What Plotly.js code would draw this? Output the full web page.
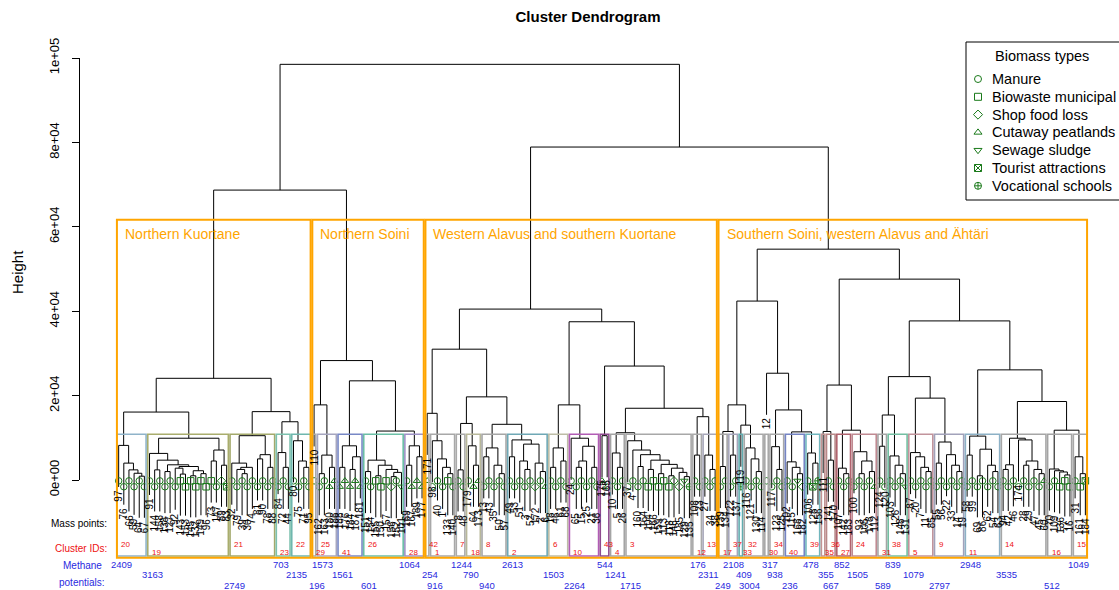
<!DOCTYPE html>
<html><head><meta charset="utf-8">
<script src="https://cdn.plot.ly/plotly-3.0.1.min.js"></script>
<style>html,body{margin:0;padding:0;background:#fff}#chart{width:1119px;height:590px}</style>
</head><body><div id="chart"></div>
<script>
// ---------------- DATA ----------------
const clusterIds = [20,19,21,23,22,29,25,41,26,28,42,1,7,18,8,2,6,10,43,4,3,12,13,17,37,33,32,30,34,40,39,35,36,27,24,31,38,5,9,11,14,16,15];
const methanePotentials = [2409,3163,2749,703,2135,196,1573,1561,601,1064,254,916,1244,790,940,2613,1503,2264,544,1241,1715,176,2311,249,2108,409,3004,317,938,236,478,355,667,852,1505,589,839,1079,2797,2948,3535,512,1049];
const leafLabelsByCluster = [
 [97,76,66,59,64,67],[91,144,158,138,127,92,143,153,145,132,149,96,73,147,89,83],[32,79,39,30,74,81,90,78,88],[84,72,44],[80,75,71,95],
 [110],[162,163,180,186],[188,176,184,187,181],[151,154,155,150,157,156,152,101],[169,167,189,177],
 [171],[98,40,1,133,140],[8,48],[179,64,173],[13,43,35,50,57],[49,53,51,3,52,172,2,6],[18,46,61,68],[24,65,15,25,21,36],[175,165],[10,5,26],[37,4,160,164,104,166,159,113,118,146,185,129,135],[108,23],[27,34,38],
 [139,134],[122,137],[119],[116,121,130,114],[12],[117,123,125],[102,115,168,182],[106,128,156],[111],[141,170],[107,142,183],[100,93,105,178,112],[124,120],[103,126,148,131],[87,20,7,11,85],[55,56,22,33,14,19],[58,99,69,86,62,54,63],[94,42,46,174,28,29,47,45,60],[70,109,136,77,16],[31,161,184]
];
const leafTypesByCluster = ['MMMMMM','MMMMMMBBBBBBBMST','MMMMMMMMM','MMM','MMMM','M','MMCC','CCCCC','MMBBBSMW','MCCC',
 'C','MMMBM','MM','MCC','MMMMM','MMMMMSMC','MMMM','MMMMMM','CC','MMM','MMMMBBBBBSSWV','MM','MMM',
 'MM','MM','V','MMMM','M','MMM','MMWS','MTV','M','MM','MMM','MMMMC','MM','MMMW','MMMMM','MMMMMM','MMMMMMM','MMMMMMMMC','MMBBB','MBT'];
// merge heights inside each cluster, between neighbouring leaves (left to right)
const innerHeights = [
 [8200,4000,2400,1600,900],[6300,2400,4700,2000,3600,2800,1400,3200,1000,2200,1500,9900,4500,7100,3500],[4000,2500,1500,3000,10500,5000,6000,3000],[6500,3000],[9300,4500,3000],
 [],[1500,5900,3000],[3000,8100,2500,5500],[2000,4700,1000,3500,2500,800,1800],[3500,8100,5500],
 [],[9300,5000,3000,1500],[2400],[8100,3500],[5500,7600,3500,1500],[5500,9500,4500,2500,8500,4000,2000],[3000,7600,4500],[9900,3000,4500,8000,3000],[10500],[6400,3000],[9300,7100,3200,6000,2500,4700,1500,3700,1000,2800,1800,800],[5900],[5900,2500],
 [3200],[5900],[],[7600,5000,2000],[],[7900,2500],[4300,3000,1500],[6400,4000],[],[4700],[2800,1500],[6700,1500,4500,2000],[8000],[5700,3500,1500],[6500,5500,3000,2000],[4000,9000,6000,3500,2000],[5900,10400,1000,7300,3500,2000],[2500,3600,9900,9500,3500,4500,2500,1500],[2600,2200,1900,1200],[5500,1500]
];
// merge height joining each cluster with the next one (lowest common ancestor)
const joinHeights = [16100,24100,16200,13800,68700,17800,28300,23500,11600,98500,
 15800,31000,13400,19700,13200,40500,17800,37500,27000,11200,17000,15000,78900,
 11500,17800,13000,42400,25300,16600,11400,54700,11500,22500,11800,47600,15400,24500,19400,37700,26100,18600,11800];
const clusterColors = ['#8fb3c9','#a9ad6d','#a3a96b','#7cc1ae','#6fb7ae','#a9a9a9','#a6a6bf','#7888c6','#6bbfa6','#9d92c6',
 '#aaaaaa','#a8a8a8','#aaaaaa','#b8b89a','#a6a6a6','#6fa8b5','#bdbda6','#b25db5','#8e4a8e','#a4a4a4','#a8a8a8','#aaaaaa','#a7a7b9',
 '#a5a5a5','#a6a6bb','#62adb0','#a8a8a8','#a8a8a8','#a8a8a8','#7584c4','#70b6bd','#c29494','#b88888','#b0636e','#c08a92','#a5a5a5','#73bfa2','#c2949c','#a2a2ba','#8db1c6','#a6a6a6','#a4a4a4','#a8a8a8'];
const regionNames = ['Northern Kuortane','Northern Soini','Western Alavus and southern Kuortane','Southern Soini, western Alavus and Ähtäri'];
const regionClusterCounts = [5,5,13,20];
const typeCodes = ['M','B','S','C','W','T','V'];
const typeNames = ['Manure','Biowaste municipal','Shop food loss','Cutaway peatlands','Sewage sludge','Tourist attractions','Vocational schools'];
const typeSymbols = ['circle-open','square-open','diamond-open','triangle-up-open','triangle-down-open','square-x-open','circle-cross-open'];
const yTickVals = [0,20000,40000,60000,80000,100000];
const yTickText = ['0e+00','2e+04','4e+04','6e+04','8e+04','1e+05'];

// ---------------- BUILD ----------------
const W = 1119, H = 590, ML = 80;
const pxPerK = 4.22, zeroPx = 480;
const yRange = [-(H - zeroPx) / pxPerK * 1000, zeroPx / pxPerK * 1000];
const xRange = [-6.52, 195.54];
const green = '#1a7a1a';

const leafLabels = [].concat(...leafLabelsByCluster);
const leafTypes = leafTypesByCluster.join('').split('');
const clusterSizes = leafLabelsByCluster.map(a => a.length);
const N = leafLabels.length;
const gaps = [];
clusterSizes.forEach((n, c) => {
  innerHeights[c].forEach(h => gaps.push(h));
  if (c < clusterSizes.length - 1) gaps.push(joinHeights[c]);
});

function build(a, b) {
  if (a === b) return {leaf: true, idx: a, x: a + 1};
  let m = a;
  for (let i = a + 1; i < b; i++) if (gaps[i] > gaps[m]) m = i;
  const L = build(a, m), R = build(m + 1, b);
  return {leaf: false, h: gaps[m], x: (L.x + R.x) / 2, L, R};
}
const root = build(0, N - 1);
const maxH = Math.max(...gaps);
const hang = 0.1 * maxH;
const lx = [], ly = [], leafBottom = new Array(N);
(function draw(node) {
  if (node.leaf) return;
  const bl = node.L.leaf ? node.h - hang : node.L.h;
  const br = node.R.leaf ? node.h - hang : node.R.h;
  if (node.L.leaf) leafBottom[node.L.idx] = bl;
  if (node.R.leaf) leafBottom[node.R.idx] = br;
  lx.push(node.L.x, node.L.x, node.R.x, node.R.x, null);
  ly.push(bl, node.h, node.h, br, null);
  draw(node.L); draw(node.R);
})(root);

const sortedH = gaps.slice().sort((a, b) => b - a);
const cutFor = k => (sortedH[k - 2] + sortedH[k - 1]) / 2;
const clusterTop = cutFor(clusterIds.length);
const regionTop = cutFor(regionNames.length);
const rectBottom = -18000;

const traces = [];
traces.push({x: lx, y: ly, mode: 'lines', line: {color: '#000', width: 1}, hoverinfo: 'skip', xaxis: 'x', yaxis: 'y'});

typeCodes.forEach((code, t) => {
  const xs = [], ys = [];
  leafTypes.forEach((c, i) => { if (c === code) { xs.push(i + 1); ys.push(i % 2 === 0 ? -200 : -1600); } });
  traces.push({x: xs, y: ys, mode: 'markers', name: typeNames[t], marker: {symbol: typeSymbols[t], color: green, size: 6.5, line: {width: 1, color: green}}, hoverinfo: 'skip', xaxis: 'x', yaxis: 'y'});
});
// axis helper subplot
traces.push({x: [0.5], y: [-1e9], mode: 'markers', marker: {opacity: 0}, hoverinfo: 'skip', xaxis: 'x2', yaxis: 'y2'});
// legend markers subplot (pixel coordinates)
const legTop = 79, legStep = 17.8, legSymX = 978, legTextX = 990;
traces.push({x: typeNames.map(() => legSymX), y: typeNames.map((_, i) => legTop + i * legStep), mode: 'markers',
  marker: {symbol: typeSymbols, color: green, size: 7, line: {width: 1, color: green}}, hoverinfo: 'skip', xaxis: 'x3', yaxis: 'y3'});

const shapes = [], annotations = [];
let start = 0;
const firstLeaf = [];
clusterSizes.forEach((n, c) => {
  firstLeaf.push(start + 1);
  shapes.push({type: 'rect', xref: 'x', yref: 'y', x0: start + 1 - 0.34, x1: start + n + 0.33, y0: rectBottom, y1: clusterTop,
    line: {color: clusterColors[c], width: 1.6}, layer: 'above'});
  annotations.push({xref: 'x', yref: 'y', x: start + 1 - 0.34, xshift: 2, xanchor: 'left', y: c % 2 === 0 ? -15200 : -17100, yanchor: 'middle',
    text: String(clusterIds[c]), showarrow: false, font: {size: 8, color: '#ee1111'}});
  const rowY = [-20100, -22500, -24900][c % 3];
  annotations.push({xref: 'x', yref: 'y', x: start + 1.6, xanchor: 'center', y: rowY, yanchor: 'middle',
    text: String(methanePotentials[c]), showarrow: false, font: {size: 9.5, color: '#2a2ae0'}});
  start += n;
});
let cstart = 0;
regionNames.forEach((name, r) => {
  const c0 = cstart, c1 = cstart + regionClusterCounts[r] - 1;
  const lf = firstLeaf[c0], ll = firstLeaf[c1] + clusterSizes[c1] - 1;
  shapes.push({type: 'rect', xref: 'x', yref: 'y', x0: lf - 0.34, x1: ll + 0.33, y0: rectBottom - 400, y1: regionTop,
    line: {color: '#FFA500', width: 2}, layer: 'above'});
  annotations.push({xref: 'x', yref: 'y', x: lf - 0.34, xshift: 6, xanchor: 'left', y: regionTop, yshift: -4, yanchor: 'top',
    text: name, showarrow: false, font: {size: 14, color: '#FFA500'}});
  cstart += regionClusterCounts[r];
});
leafLabels.forEach((lab, i) => {
  annotations.push({xref: 'x', yref: 'y', x: i + 1, y: leafBottom[i], yshift: -1, xanchor: 'center', yanchor: 'top', textangle: -90,
    text: String(lab), showarrow: false, font: {size: 10, color: '#000'}});
});
const px2x = px => (px - ML) / (W - ML);
const py2y = py => (H - py) / H;
annotations.push({xref: 'paper', yref: 'paper', x: px2x(18), y: py2y(272), textangle: -90, text: 'Height', showarrow: false, xanchor: 'center', yanchor: 'middle', font: {size: 15}});
annotations.push({xref: 'paper', yref: 'paper', x: px2x(109), y: py2y(523), text: 'Mass points:', showarrow: false, xanchor: 'right', yanchor: 'middle', font: {size: 10}});
annotations.push({xref: 'paper', yref: 'paper', x: px2x(109), y: py2y(548), text: 'Cluster IDs:', showarrow: false, xanchor: 'right', yanchor: 'middle', font: {size: 10, color: '#ee1111'}});
annotations.push({xref: 'paper', yref: 'paper', x: px2x(82), y: py2y(565), text: 'Methane', showarrow: false, xanchor: 'center', yanchor: 'middle', font: {size: 10, color: '#2a2ae0'}});
annotations.push({xref: 'paper', yref: 'paper', x: px2x(82), y: py2y(582), text: 'potentials:', showarrow: false, xanchor: 'center', yanchor: 'middle', font: {size: 10, color: '#2a2ae0'}});
// legend
shapes.push({type: 'rect', xref: 'paper', yref: 'paper', x0: px2x(966), x1: px2x(1126), y0: py2y(200), y1: py2y(42), line: {color: '#000', width: 1}, fillcolor: '#fff', layer: 'below'});
annotations.push({xref: 'paper', yref: 'paper', x: px2x(1042), y: py2y(56), text: 'Biomass types', showarrow: false, xanchor: 'center', yanchor: 'middle', font: {size: 14.5}});
typeNames.forEach((n, i) => annotations.push({xref: 'paper', yref: 'paper', x: px2x(legTextX), y: py2y(legTop + i * legStep), text: n, showarrow: false, xanchor: 'left', yanchor: 'middle', font: {size: 14.5}}));

const layout = {
  width: W, height: H, margin: {l: ML, r: 0, t: 0, b: 0},
  paper_bgcolor: '#fff', plot_bgcolor: 'rgba(0,0,0,0)', showlegend: false,
  font: {family: 'Liberation Sans, Arial, sans-serif', color: '#000'},
  title: {text: '<b>Cluster Dendrogram</b>', font: {size: 15}, x: 588 / W, xref: 'container', xanchor: 'center', y: 1 - 17 / H, yref: 'container', yanchor: 'middle'},
  xaxis: {range: xRange, visible: false, domain: [0, 1]},
  yaxis: {range: yRange, visible: false, domain: [0, 1]},
  xaxis2: {domain: [0, 1], anchor: 'y2', range: [0, 1], visible: false},
  yaxis2: {domain: [py2y(zeroPx), py2y(zeroPx - 100 * pxPerK)], anchor: 'x2', range: [0, 100000], showline: true, linecolor: '#000', linewidth: 1,
    ticks: 'outside', ticklen: 7, tickcolor: '#000', tickwidth: 1, tickvals: yTickVals, ticktext: yTickText, tickangle: -90,
    tickfont: {size: 13}, ticklabelstandoff: 8, showgrid: false, zeroline: false},
  xaxis3: {domain: [0, 1], anchor: 'y3', range: [ML, W], visible: false},
  yaxis3: {domain: [0, 1], anchor: 'x3', range: [H, 0], visible: false},
  shapes: shapes, annotations: annotations
};
Plotly.newPlot('chart', traces, layout, {staticPlot: true});
</script>
</body></html>
